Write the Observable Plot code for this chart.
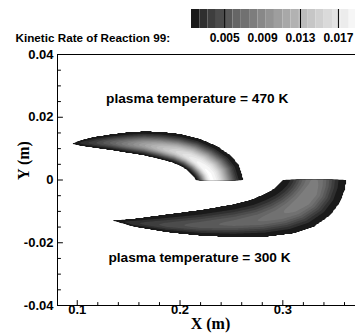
<!DOCTYPE html>
<html>
<head>
<meta charset="utf-8">
<script src="https://cdn.jsdelivr.net/npm/d3@7"></script>
<script src="https://cdn.jsdelivr.net/npm/@observablehq/plot@0.6"></script>
<style>
  html, body { margin: 0; padding: 0; background: #fff; }
  #chart { position: relative; width: 355px; height: 336px; overflow: hidden; }
  #chart svg { position: absolute; left: 0; top: 0; }
</style>
</head>
<body>
<div id="chart"></div>
<script>
// Contour levels of the kinetic rate of reaction 99 (colour bar bands)
const levels = [0.0015, 0.00238, 0.00325, 0.00413, 0.0050, 0.00588, 0.00675, 0.00763,
  0.0085, 0.00938, 0.01025, 0.01113, 0.0120, 0.01288, 0.01375, 0.01463, 0.0155,
  0.01638, 0.01725, 0.01813, 0.0190];
const colorTicks = [0.005, 0.009, 0.013, 0.017];
const colorRules = [0.005, 0.013, 0.017];
const colorTitle = "Kinetic Rate of Reaction 99:";

// Axes
const xDomain = [0.0808, 0.3707];
const yDomain = [-0.04, 0.04];
const xTicks = [0.1, 0.2, 0.3];
const xMinor = [0.12, 0.14, 0.16, 0.18, 0.22, 0.24, 0.26, 0.28, 0.32, 0.34, 0.36];
const yTicks = [-0.04, -0.02, 0, 0.02, 0.04];
const yMinor = [-0.035, -0.03, -0.025, -0.015, -0.01, -0.005, 0.005, 0.01, 0.015, 0.025, 0.03, 0.035];

// Reaction zone at 470 K (upper half): inner/outer edges from the tip to the symmetry plane
const hotInnerX = [0.0951, 0.1032, 0.1161, 0.1324, 0.1486, 0.1648, 0.1810, 0.1927, 0.2015, 0.2073, 0.2112, 0.2136, 0.2151];
const hotInnerY = [0.0114, 0.01077, 0.01014, 0.0094, 0.00854, 0.00771, 0.00644, 0.00542, 0.00414, 0.00287, 0.00159, 0.00064, 0];
const hotOuterX = [0.0951, 0.1032, 0.1161, 0.1324, 0.1486, 0.1648, 0.1810, 0.2005, 0.2199, 0.2365, 0.2501, 0.2579, 0.2621];
const hotOuterY = [0.0117, 0.01281, 0.01386, 0.01473, 0.01536, 0.01568, 0.01555, 0.01482, 0.01323, 0.01084, 0.00781, 0.00462, 0];
const hotPeak  = [0.0016, 0.0025, 0.0038, 0.0060, 0.0085, 0.0110, 0.0135, 0.0155, 0.0172, 0.0183, 0.0190, 0.0192, 0.0192];
const hotCrest = [0.5, 0.5, 0.45, 0.45, 0.42, 0.42, 0.40, 0.38, 0.36, 0.34, 0.33, 0.33, 0.33];

// Reaction zone at 300 K (lower half)
const coldInnerX = [0.1340, 0.1551, 0.1875, 0.2199, 0.2523, 0.2686, 0.2803, 0.2880, 0.2929, 0.2968, 0.2984, 0.2994];
const coldInnerY = [-0.0128, -0.01218, -0.01077, -0.0094, -0.00759, -0.00622, -0.00462, -0.00335, -0.00223, -0.00112, -0.00048, 0];
const coldOuterX = [0.1340, 0.1551, 0.1875, 0.2199, 0.2523, 0.2848, 0.3107, 0.3302, 0.3464, 0.3561, 0.3610, 0.3620];
const coldOuterY = [-0.0130, -0.01504, -0.01683, -0.01791, -0.01842, -0.01823, -0.01715, -0.01504, -0.01131, -0.00708, -0.00280, 0];
const coldPeak  = [0.0016, 0.0030, 0.0045, 0.0055, 0.0062, 0.0068, 0.0074, 0.0080, 0.0084, 0.0084, 0.0080, 0.0078];
const coldCrest = [0.5, 0.55, 0.6, 0.6, 0.58, 0.55, 0.52, 0.5, 0.5, 0.5, 0.5, 0.5];

const annotations = [
  {text: "plasma temperature = 470 K", x: 0.2167, y: 0.0260},
  {text: "plasma temperature = 300 K", x: 0.2190, y: -0.0247}
];

// ---- rate field built from the zone edges ----
const EDGE = 0.0016;                 // rate on the zone boundary (lowest band)
const K = (xDomain[1] - xDomain[0]) / (yDomain[1] - yDomain[0]); // balances x and y when solving

function makeZone(ix, iy, ox, oy, peak, crest) {
  const quads = [];
  for (let k = 0; k < ix.length - 1; k++) {
    const a = [ix[k], iy[k] * K], b = [ix[k + 1], iy[k + 1] * K];
    const c = [ox[k + 1], oy[k + 1] * K], d = [ox[k], oy[k] * K];
    const xs = [a[0], b[0], c[0], d[0]], ys = [a[1], b[1], c[1], d[1]];
    quads.push({k, a, b, c, d,
      x0: Math.min(...xs) - 1e-9, x1: Math.max(...xs) + 1e-9,
      y0: Math.min(...ys) - 1e-9, y1: Math.max(...ys) + 1e-9});
  }
  return {quads, peak, crest};
}

const zones = [
  makeZone(hotInnerX, hotInnerY, hotOuterX, hotOuterY, hotPeak, hotCrest),
  makeZone(coldInnerX, coldInnerY, coldOuterX, coldOuterY, coldPeak, coldCrest)
];

// inverse of the bilinear patch a(0,0) b(1,0) c(1,1) d(0,1)
function invBilinear(px, py, q) {
  const [ax, ay] = q.a, [bx, by] = q.b, [cx, cy] = q.c, [dx, dy] = q.d;
  const ex = bx - ax, ey = by - ay, fx = dx - ax, fy = dy - ay;
  const gx = ax - bx + cx - dx, gy = ay - by + cy - dy;
  const hx = px - ax, hy = py - ay;
  const cr = (x1, y1, x2, y2) => x1 * y2 - y1 * x2;
  const k2 = cr(gx, gy, fx, fy);
  const k1 = cr(ex, ey, fx, fy) + cr(hx, hy, gx, gy);
  const k0 = cr(hx, hy, ex, ey);
  const solveU = v => {
    const nx = ex + gx * v, ny = ey + gy * v;
    return Math.abs(nx) > Math.abs(ny) ? (hx - fx * v) / nx : (hy - fy * v) / ny;
  };
  const cands = [];
  if (Math.abs(k2) < 1e-16) {
    if (k1 !== 0) cands.push(-k0 / k1);
  } else {
    let w = k1 * k1 - 4 * k0 * k2;
    if (w < 0) return null;
    w = Math.sqrt(w);
    const qq = -0.5 * (k1 + (k1 >= 0 ? w : -w));
    if (qq !== 0) cands.push(k0 / qq);
    cands.push(qq / k2);
  }
  const eps = 1e-7;
  for (const v of cands) {
    if (!(v >= -eps && v <= 1 + eps)) continue;
    const u = solveU(v);
    if (u >= -eps && u <= 1 + eps) return [Math.min(1, Math.max(0, u)), Math.min(1, Math.max(0, v))];
  }
  return null;
}

function zoneValue(z, q, u, t) {
  const p = z.peak[q.k] * (1 - u) + z.peak[q.k + 1] * u;
  const c = z.crest[q.k] * (1 - u) + z.crest[q.k + 1] * u;
  const r = t < c ? (c - t) / c : (t - c) / (1 - c);
  const bump = Math.pow(Math.max(0, 1 - r * r), 2.5);
  return EDGE + Math.max(0, p - EDGE) * bump;
}

function rate(x, y) {
  const Y = y * K;
  for (const z of zones) {
    for (const q of z.quads) {
      if (x < q.x0 || x > q.x1 || Y < q.y0 || Y > q.y1) continue;
      const uv = invBilinear(x, Y, q);
      if (uv) return zoneValue(z, q, uv[0], uv[1]);
    }
  }
  return 0;
}

// ---- shared styling ----
const sans = "'Liberation Sans', Arial, Helvetica, sans-serif";
const serif = "'Liberation Serif', 'Times New Roman', serif";
const grayRamp = d3.interpolateRgb("#1a1a1a", "#ffffff");
const colorOptions = {type: "linear", domain: [levels[0], levels[levels.length - 1]], clamp: true,
  interpolate: t => grayRamp(Math.pow(t, 0.8))};

const tickUp = {draw(ctx, l) { ctx.moveTo(0, 0); ctx.lineTo(0, -l); }};
const tickRight = {draw(ctx, l) { ctx.moveTo(0, 0); ctx.lineTo(l, 0); }};
const fmtY = d => d === 0 ? "0" : d.toFixed(2);

const main = Plot.plot({
  width: 355, height: 336,
  marginTop: 54, marginRight: 0, marginBottom: 31, marginLeft: 57,
  style: {background: "transparent", fontFamily: sans},
  x: {domain: xDomain, axis: null},
  y: {domain: yDomain, axis: null},
  color: colorOptions,
  marks: [
    Plot.contour({fill: rate, thresholds: levels, x1: xDomain[0], x2: xDomain[1],
      y1: yDomain[0], y2: yDomain[1], pixelSize: 1, stroke: "none"}),
    Plot.ruleX([xDomain[0]], {stroke: "#000", strokeWidth: 1}),
    Plot.ruleY(yDomain, {stroke: "#000", strokeWidth: 1}),
    Plot.vector(xTicks, {x: d => d, frameAnchor: "bottom", length: 5, shape: tickUp, anchor: "start", stroke: "#000", strokeWidth: 1}),
    Plot.vector(xMinor, {x: d => d, frameAnchor: "bottom", length: 3, shape: tickUp, anchor: "start", stroke: "#000", strokeWidth: 1}),
    Plot.vector(yTicks, {y: d => d, frameAnchor: "left", length: 5, shape: tickRight, anchor: "start", stroke: "#000", strokeWidth: 1}),
    Plot.vector(yMinor, {y: d => d, frameAnchor: "left", length: 3, shape: tickRight, anchor: "start", stroke: "#000", strokeWidth: 1}),
    Plot.text(yTicks, {y: d => d, text: fmtY, frameAnchor: "left", dx: -4, textAnchor: "end",
      fontSize: 13, fontWeight: "bold", fontFamily: sans, fill: "#000"}),
    Plot.text(xTicks, {x: d => d, text: d => String(d), frameAnchor: "bottom", dy: 8,
      fontSize: 13, fontWeight: "bold", fontFamily: sans, fill: "#000"}),
    Plot.text(annotations, {x: "x", y: "y", text: "text", fontSize: 13.7, fontWeight: "bold", fontFamily: sans, fill: "#000"}),
    Plot.text(["X (m)"], {frameAnchor: "bottom", dx: 4, dy: 23, fontSize: 16, fontWeight: "bold", fontFamily: serif, fill: "#000"}),
    Plot.text(["Y (m)"], {frameAnchor: "left", dx: -34, rotate: -90, fontSize: 16, fontWeight: "bold", fontFamily: serif, fill: "#000"})
  ]
});

const bands = levels.slice(0, -1).map((lo, i) => ({lo, hi: levels[i + 1]}));
const legend = Plot.plot({
  width: 355, height: 54,
  marginTop: 9, marginRight: 0, marginBottom: 26, marginLeft: 191,
  style: {background: "transparent", fontFamily: sans},
  x: {domain: [levels[0], 0.0188], axis: null},
  color: colorOptions,
  marks: [
    Plot.rect(bands, {x1: "lo", x2: "hi", fill: "lo"}),
    Plot.ruleX(colorRules, {stroke: "#000", strokeWidth: 1}),
    Plot.text(colorTicks, {x: d => d, text: d => d.toFixed(3), frameAnchor: "bottom", dy: 13,
      fontSize: 12, fontWeight: "bold", fontFamily: sans, fill: "#000"}),
    Plot.text([colorTitle], {frameAnchor: "bottom-left", dx: -176, dy: 13, textAnchor: "start",
      fontSize: 11.7, fontWeight: "bold", fontFamily: sans, fill: "#000"})
  ]
});

const chart = document.getElementById("chart");
chart.append(main, legend);
</script>
</body>
</html>
